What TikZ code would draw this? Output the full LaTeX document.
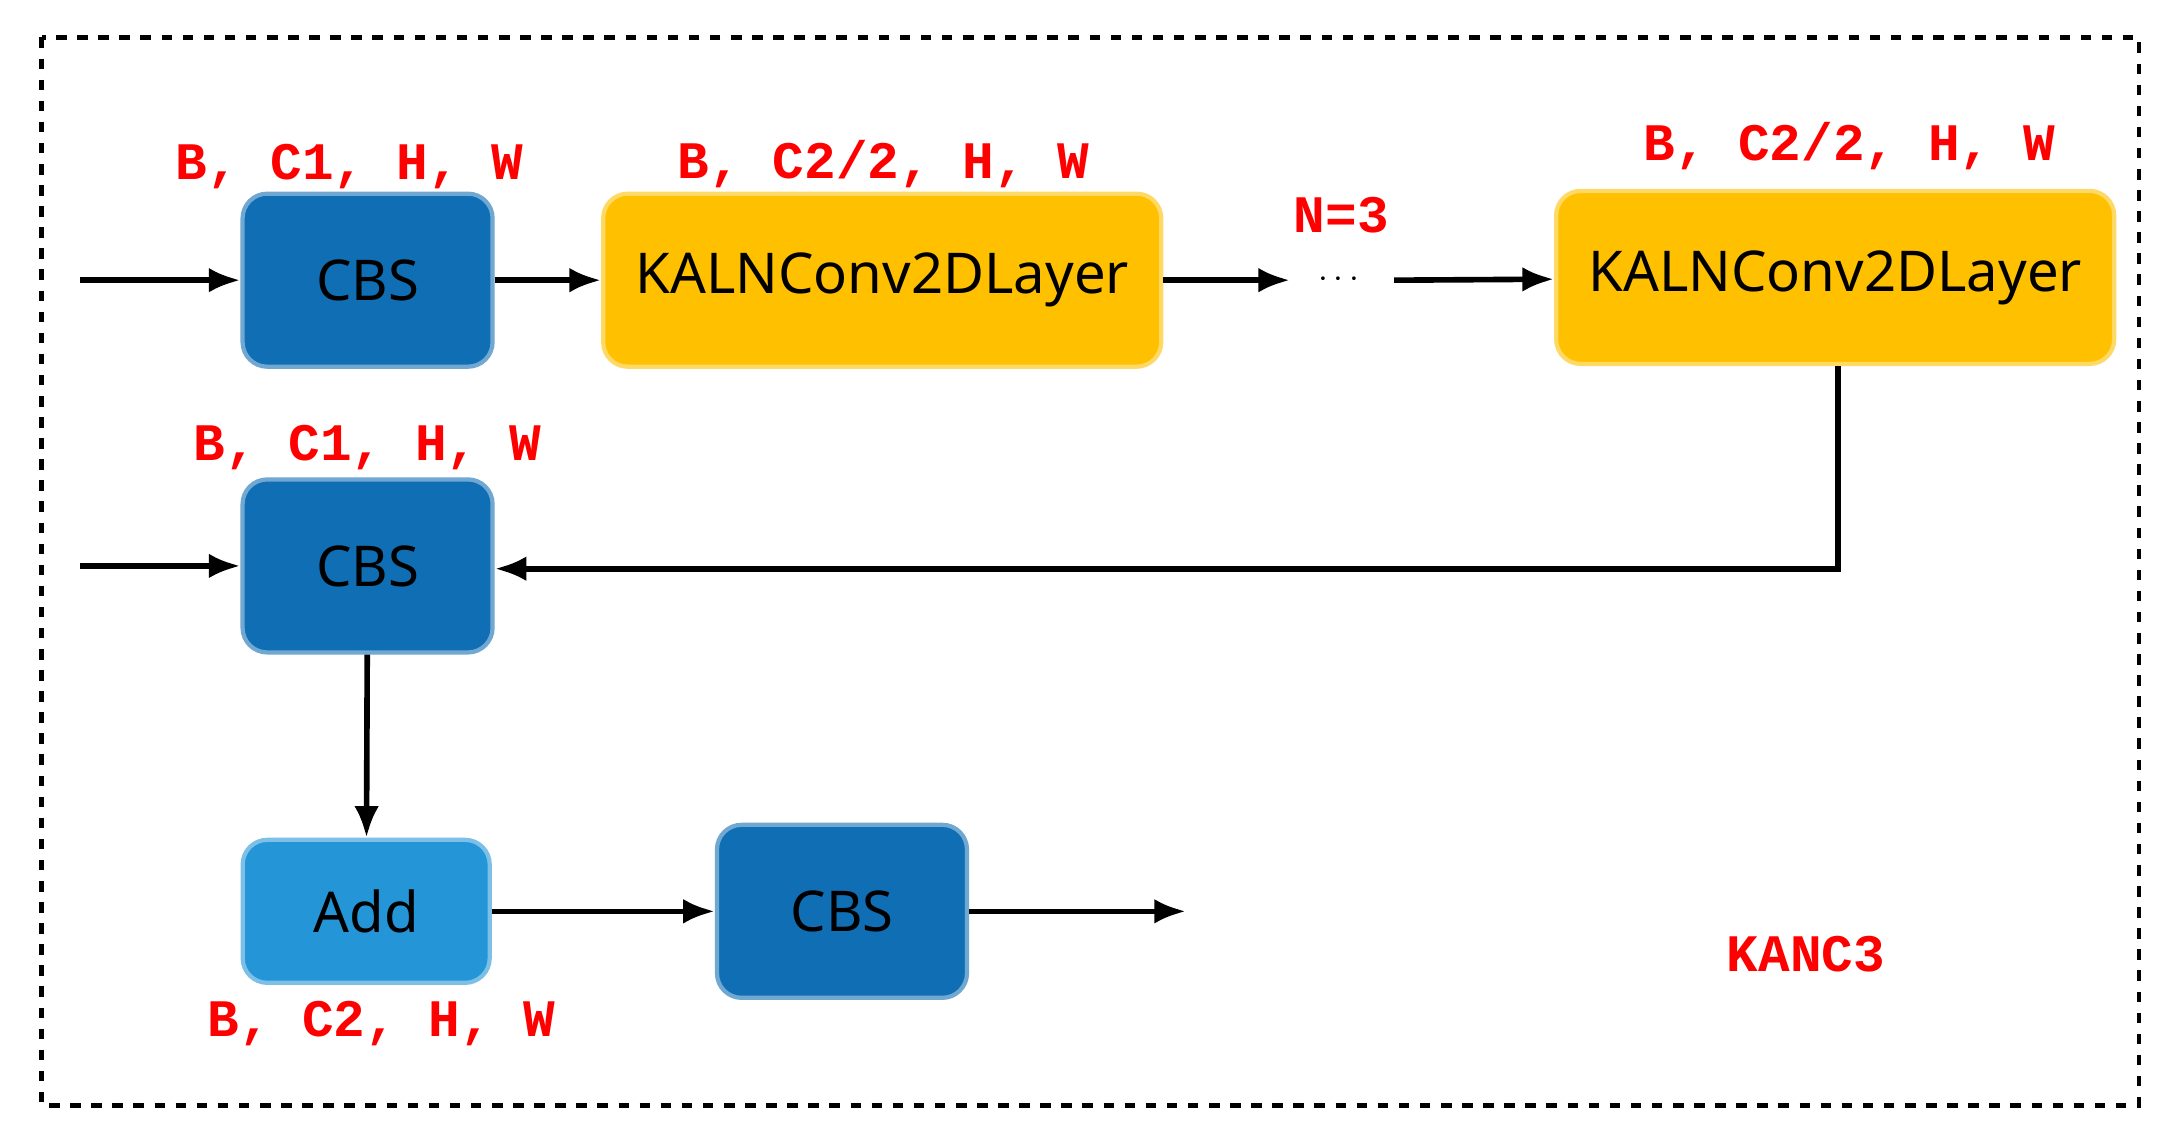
\documentclass[tikz,border=0pt]{standalone}
\usepackage{fontspec}
\setmainfont{Noto Sans}
\newfontfamily\labfont{Liberation Mono}
\usetikzlibrary{arrows.meta,positioning}
\definecolor{cbsblue}{RGB}{16,110,180}
\definecolor{addblue}{RGB}{36,150,215}
\definecolor{kalnyel}{RGB}{255,192,0}
\tikzset{
  blk/.style={rounded corners=7pt, draw=#1!60!white, line width=1.2pt, fill=#1, minimum height=1.73cm, font=\fontsize{16}{19}\selectfont},
  cbs/.style={blk=cbsblue, minimum width=2.5cm},
  add/.style={blk=addblue, minimum width=2.47cm, minimum height=1.43cm},
  kaln/.style={blk=kalnyel, minimum width=5.58cm},
  dim/.style={text=red, font=\labfont\bfseries\fontsize{15}{18}\selectfont},
  arr/.style={-{Latex[length=9pt,width=7pt]}, line width=1.6pt},
}
\begin{document}
\begin{tikzpicture}[x=0.01387cm,y=-0.01387cm]
\useasboundingbox (0,0) rectangle (1568,823);
\draw[dashed, line width=1.3pt] (30,27) rectangle (1542,797);

% top row
\node[cbs] (cbsA) at (265,202) {CBS};
\node[kaln] (kalnA) at (636,202) {KALNConv2DLayer};
\node (dots) at (965,202) {\textbf{$\cdots$}};
\node[kaln] (kalnB) at (1323,200) {KALNConv2DLayer};
\coordinate (inA) at (58,202);
\coordinate (dotsL) at (930,202);
\coordinate (dotsR) at (1005,202);

% middle / bottom
\node[cbs] (cbsB) at (265,408) {CBS};
\node[add] (add) at (264,657) {Add};
\node[cbs] (cbsC) at (607,657) {CBS};
\coordinate (inB) at (58,408);
\coordinate (out) at (855,657);
\coordinate (turn) at (1325,410);

% labels
\node[dim] (dA) at (252,120) {B, C1, H, W};
\node[dim] (dB) at (637,118) {B, C2/2, H, W};
\node[dim] (dC) at (1333,105) {B, C2/2, H, W};
\node[dim] (dN) at (967,155) {N=3};
\node[dim] (dD) at (265,323) {B, C1, H, W};
\node[dim] (dE) at (275,738) {B, C2, H, W};
\node[dim] (kanc) at (1302,688) {KANC3};

% connectors
\draw[arr] (inA) -- (cbsA);
\draw[arr] (cbsA) -- (kalnA);
\draw[arr] (kalnA) -- (dotsL);
\draw[arr] (dotsR) -- (kalnB);
\draw[arr] (kalnB.south -| turn) -- (turn) -- (cbsB.east |- turn);
\draw[arr] (inB) -- (cbsB);
\draw[arr] (cbsB) -- (add);
\draw[arr] (add) -- (cbsC);
\draw[arr] (cbsC) -- (out);
\end{tikzpicture}
\end{document}
